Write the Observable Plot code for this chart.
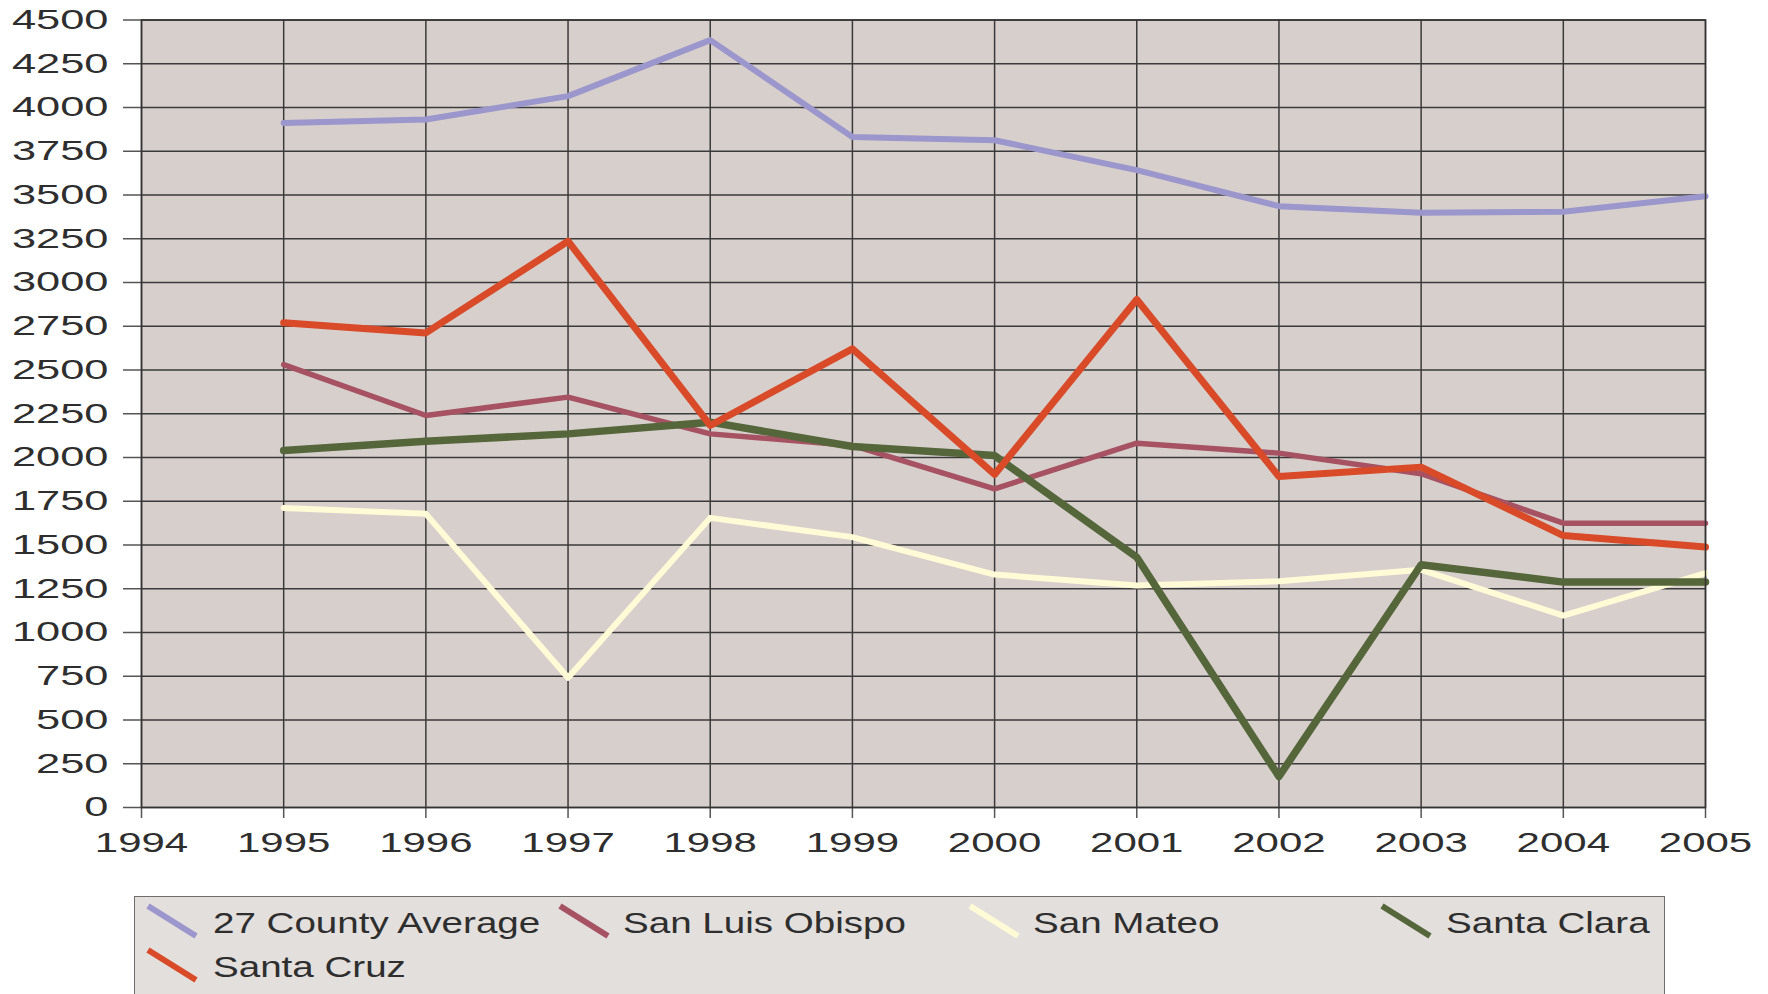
<!DOCTYPE html>
<html><head><meta charset="utf-8">
<script src="https://cdn.jsdelivr.net/npm/d3@7"></script>
<script src="https://cdn.jsdelivr.net/npm/@observablehq/plot@0.6"></script>
<style>
body{margin:0;background:#fff;width:1768px;height:994px;overflow:hidden;position:relative;font-family:"Liberation Sans",Arial,sans-serif;}
#chart{position:absolute;left:0;top:0;}
#legend{position:absolute;left:134px;top:896px;width:1531px;height:130px;background:#e3dfdd;border:1.5px solid #6e6e6e;box-sizing:border-box;}
.item{position:absolute;left:0;top:0;}
.item svg{position:absolute;overflow:visible;}
.item span{position:absolute;display:inline-block;white-space:nowrap;font-family:"Liberation Sans",Arial,sans-serif;font-size:30px;line-height:30px;color:#2e2e2e;transform:scaleX(1.285);transform-origin:0 0;}
</style></head><body>
<div id="chart"></div><div id="legend"></div>
<script>
// ---- data ----
const years = [1995, 1996, 1997, 1998, 1999, 2000, 2001, 2002, 2003, 2004, 2005];
const countyAverage = [3912, 3931, 4065, 4385, 3832, 3813, 3642, 3436, 3398, 3404, 3493];
const sanLuisObispo = [2531, 2240, 2345, 2135, 2069, 1821, 2082, 2025, 1907, 1625, 1625];
const sanMateo     = [1712, 1678, 741, 1655, 1545, 1331, 1269, 1293, 1358, 1097, 1339];
const santaClara   = [2040, 2093, 2135, 2202, 2063, 2011, 1430, 177, 1387, 1288, 1288];
const santaCruz    = [2770, 2712, 3236, 2183, 2621, 1903, 2903, 1891, 1945, 1554, 1488];
const seriesNames  = ["27 County Average", "San Luis Obispo", "San Mateo", "Santa Clara", "Santa Cruz"];
const seriesValues = [countyAverage, sanLuisObispo, sanMateo, santaClara, santaCruz];
const seriesColors = ["#9b96cb", "#a65262", "#fffbd6", "#55663b", "#d84a28"];
const seriesWidths = [6, 5.5, 6, 7.5, 7];
const xTicks = [1994, 1995, 1996, 1997, 1998, 1999, 2000, 2001, 2002, 2003, 2004, 2005];
const yTicks = [0, 250, 500, 750, 1000, 1250, 1500, 1750, 2000, 2250, 2500, 2750, 3000, 3250, 3500, 3750, 4000, 4250, 4500];

const rows = seriesNames.flatMap((s, i) => years.map((yr, j) => ({series: s, year: yr, value: seriesValues[i][j]})));

const gridStyle = {stroke: "#3a3a3a", strokeOpacity: 1, strokeWidth: 1.5};
const plot = Plot.plot({
  width: 1768, height: 870,
  marginLeft: 141, marginRight: 63, marginTop: 19.5, marginBottom: 63,
  x: {domain: [1994, 2005], label: null},
  y: {domain: [0, 4500], label: null},
  color: {domain: seriesNames, range: seriesColors},
  style: {fontSize: "28px", fontFamily: "'Liberation Sans', Arial, sans-serif", color: "#2e2e2e", background: "transparent", overflow: "visible"},
  marks: [
    Plot.frame({fill: "#d7cfcc", stroke: "none"}),
    Plot.gridX(xTicks, gridStyle),
    Plot.gridY(yTicks, gridStyle),
    Plot.axisX(xTicks, {tickSize: 11, tickPadding: 14, tickFormat: d => String(d), stroke: "#555", strokeWidth: 1.5}),
    Plot.axisY(yTicks, {tickSize: 18, tickPadding: 15, tickFormat: d => String(d), stroke: "#555", strokeWidth: 1.5}),
    ...seriesNames.map((s, i) => Plot.line(rows.filter(d => d.series === s), {
      x: "year", y: "value", stroke: "series", strokeWidth: seriesWidths[i], strokeLinejoin: "round"
    })),
    Plot.frame({stroke: "#333", strokeWidth: 1.5})
  ]
});
plot.querySelectorAll('g[aria-label="x-axis tick label"] text').forEach(t => {
  t.setAttribute("transform", (t.getAttribute("transform") || "") + " scale(1.5,1)");
});
plot.querySelectorAll('g[aria-label="y-axis tick label"] text').forEach(t => {
  t.setAttribute("transform", (t.getAttribute("transform") || "") + " scale(1.55,1)");
});
document.getElementById("chart").appendChild(plot);

// ---- legend (HTML, below the SVG) ----
const legendPos = [
  {sx: 12, sy: 7.5, tx: 77.5, ty: 11},
  {sx: 423.5, sy: 7.5, tx: 488, ty: 11},
  {sx: 833.5, sy: 7.5, tx: 897.5, ty: 11},
  {sx: 1245.5, sy: 7.5, tx: 1311, ty: 11},
  {sx: 12, sy: 51.5, tx: 77.5, ty: 55}
];
const legend = document.getElementById("legend");
seriesNames.forEach((s, i) => {
  const p = legendPos[i];
  const item = document.createElement("div");
  item.className = "item";
  item.innerHTML = `<svg width="50" height="32" style="left:${p.sx}px;top:${p.sy}px"><line x1="1" y1="1" x2="49" y2="31" stroke="${seriesColors[i]}" stroke-width="6"/></svg><span style="left:${p.tx}px;top:${p.ty}px">${s}</span>`;
  legend.appendChild(item);
});
</script>
</body></html>
